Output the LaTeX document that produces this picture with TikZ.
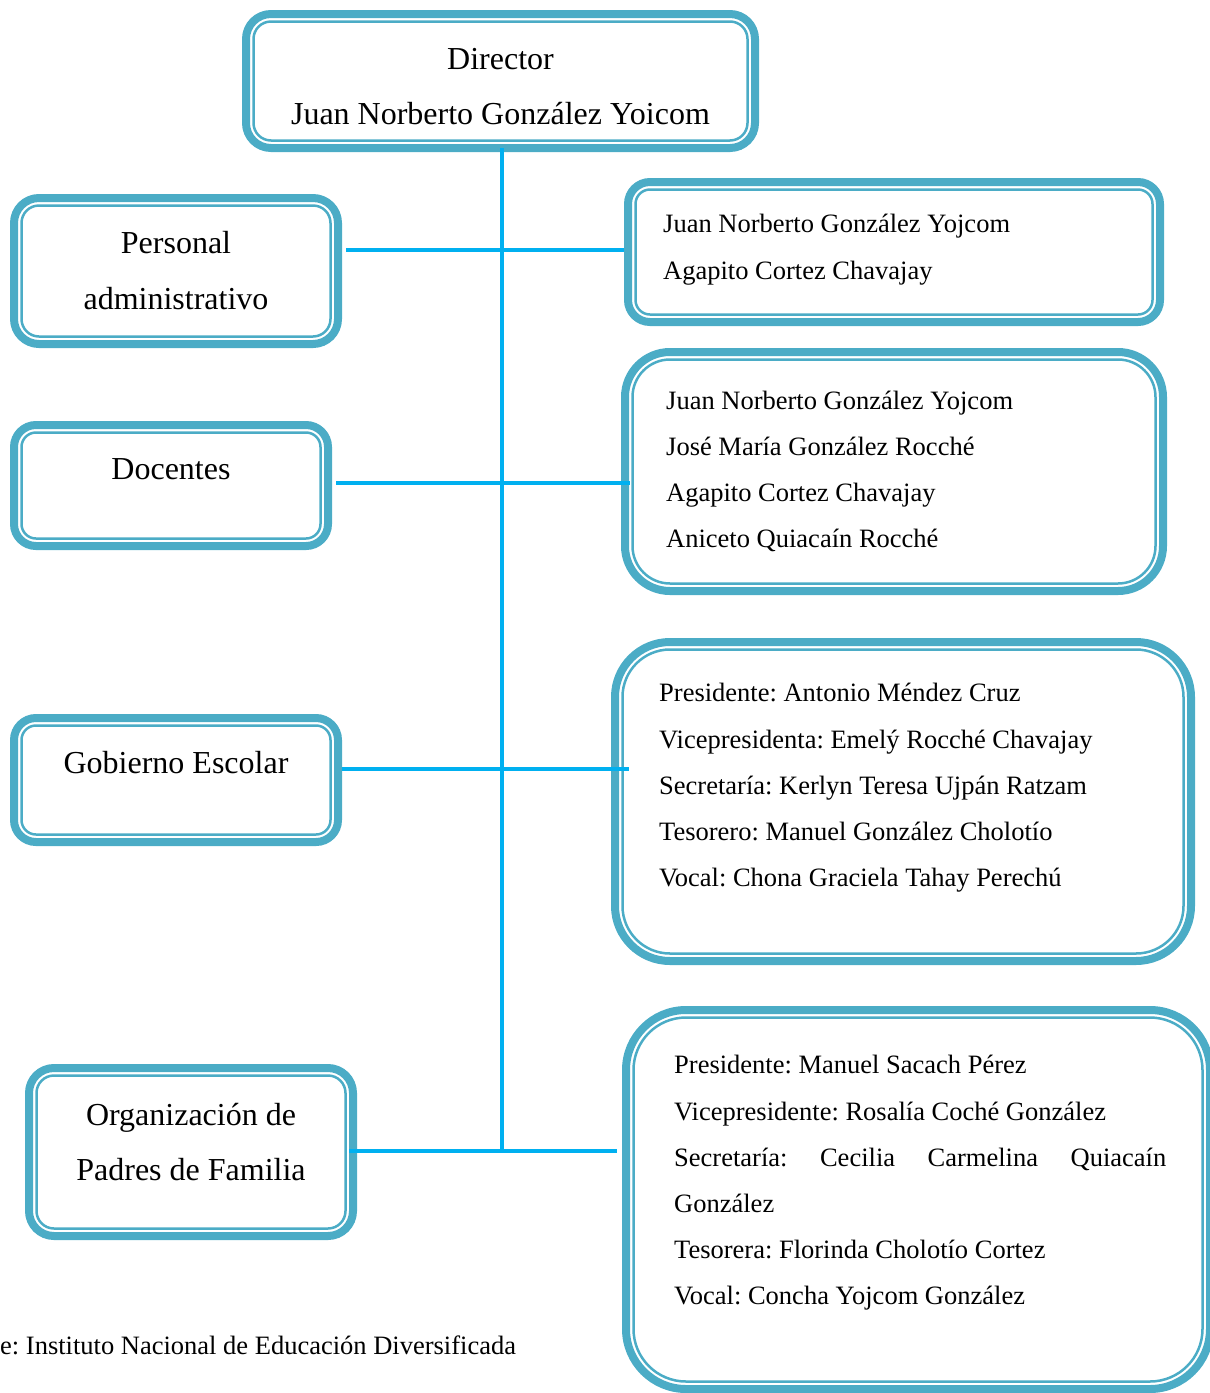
\documentclass[tikz,border=0pt]{standalone}
\usepackage{fontspec}
\setmainfont{Liberation Serif}
\frenchspacing
\definecolor{boxc}{RGB}{75,172,198}
\definecolor{linec}{RGB}{0,176,240}
\tikzset{
 orgbox/.style={draw=boxc, line width=8pt, rounded corners=#1, inner sep=0pt, outer sep=0pt},
 innerline/.style={draw=boxc, line width=2.5pt},
 big/.style={font=\fontsize{32}{38}\selectfont, inner sep=0pt, anchor=base},
 small/.style={font=\fontsize{26.5}{32}\selectfont, inner sep=0pt, anchor=base west},
 conn/.style={draw=linec, line width=3.2pt}
}
\begin{document}
\begin{tikzpicture}[x=1pt,y=-1pt]
\useasboundingbox (0,0) rectangle (1210,1393);
% boxes
\node[orgbox=25pt, minimum width=509pt, minimum height=134pt] (dir) at (500.5,81) {};
\node[orgbox=25pt, minimum width=324pt, minimum height=146pt] (pa) at (176,271) {};
\node[orgbox=22pt, minimum width=532pt, minimum height=140pt] (rb1) at (894,252) {};
\node[orgbox=22pt, minimum width=314pt, minimum height=121pt] (doc) at (171,485.5) {};
\node[orgbox=45pt, minimum width=538pt, minimum height=239pt] (rb2) at (894,471.5) {};
\node[orgbox=22pt, minimum width=324pt, minimum height=124pt] (gob) at (176,780) {};
\node[orgbox=55pt, minimum width=576pt, minimum height=319pt] (rb3) at (903,801.5) {};
\node[orgbox=25pt, minimum width=324pt, minimum height=168pt] (org) at (191,1152) {};
\node[orgbox=60pt, minimum width=584pt, minimum height=379pt] (rb4) at (918,1199.5) {};
\foreach \n/\r in {dir/17.5,pa/17.5,rb1/14.5,doc/14.5,rb2/37.5,gob/14.5,rb3/47.5,org/17.5,rb4/52.5}{
  \draw[innerline, rounded corners=\r pt] ([shift={(7.5pt,7.5pt)}]\n.south west) rectangle ([shift={(-7.5pt,-7.5pt)}]\n.north east);
}
% connectors
\coordinate (j1) at (502,250);
\coordinate (j2) at (502,483);
\coordinate (j3) at (502,769);
\coordinate (j4) at (502,1151);
\draw[conn] (dir.south -| j4) -- (j4);
\draw[conn, shorten <=8pt, shorten >=4pt] (pa.east |- j1) -- (j1 -| rb1.west);
\draw[conn, shorten <=8pt, shorten >=-5pt] (doc.east |- j2) -- (j2 -| rb2.west);
\draw[conn, shorten <=4pt, shorten >=-14pt] (gob.east |- j3) -- (j3 -| rb3.west);
\draw[conn, shorten <=-4pt, shorten >=9pt] (org.east |- j4) -- (j4 -| rb4.west);
% texts
\node[big] (t1) at (dir.center |- 0,69.5) {Director};
\node[big] (t2) at (dir.center |- 0,124.5) {Juan Norberto González Yoicom};
\node[big] (t3) at (pa.center |- 0,253.5) {Personal};
\node[big] (t4) at (pa.center |- 0,309.5) {administrativo};
\node[big] (t5) at (doc.center |- 0,479.5) {Docentes};
\node[big] (t6) at (gob.center |- 0,773.5) {Gobierno Escolar};
\node[big] (t7) at (org.center |- 0,1125.5) {Organización de};
\node[big] (t8) at (org.center |- 0,1180.5) {Padres de Familia};
\node[small] (r1a) at (663,232) {Juan Norberto González Yojcom};
\node[small] (r1b) at (663,279) {Agapito Cortez Chavajay};
\node[small] (r2a) at (666,409) {Juan Norberto González Yojcom};
\node[small] (r2b) at (666,455) {José María González Rocché};
\node[small] (r2c) at (666,501) {Agapito Cortez Chavajay};
\node[small] (r2d) at (666,547) {Aniceto Quiacaín Rocché};
\node[small] (r3a) at (659,701) {Presidente: Antonio Méndez Cruz};
\node[small] (r3b) at (659,748) {Vicepresidenta: Emelý Rocché Chavajay};
\node[small] (r3c) at (659,794) {Secretaría: Kerlyn Teresa Ujpán Ratzam};
\node[small] (r3d) at (659,840) {Tesorero: Manuel González Cholotío};
\node[small] (r3e) at (659,886) {Vocal: Chona Graciela Tahay Perechú};
\node[small] (r4a) at (674,1073) {Presidente: Manuel Sacach Pérez};
\node[small] (r4b) at (674,1120) {Vicepresidente: Rosalía Coché González};
\node[small] (r4c) at (674,1166) {\hbox to 492pt{Secretaría:\hfill Cecilia\hfill Carmelina\hfill Quiacaín}};
\node[small] (r4d) at (674,1212) {González};
\node[small] (r4e) at (674,1258) {Tesorera: Florinda Cholotío Cortez};
\node[small] (r4f) at (674,1304) {Vocal: Concha Yojcom González};
\node[small] (src) at (0,1354) {e: Instituto Nacional de Educación Diversificada};
\end{tikzpicture}
\end{document}
